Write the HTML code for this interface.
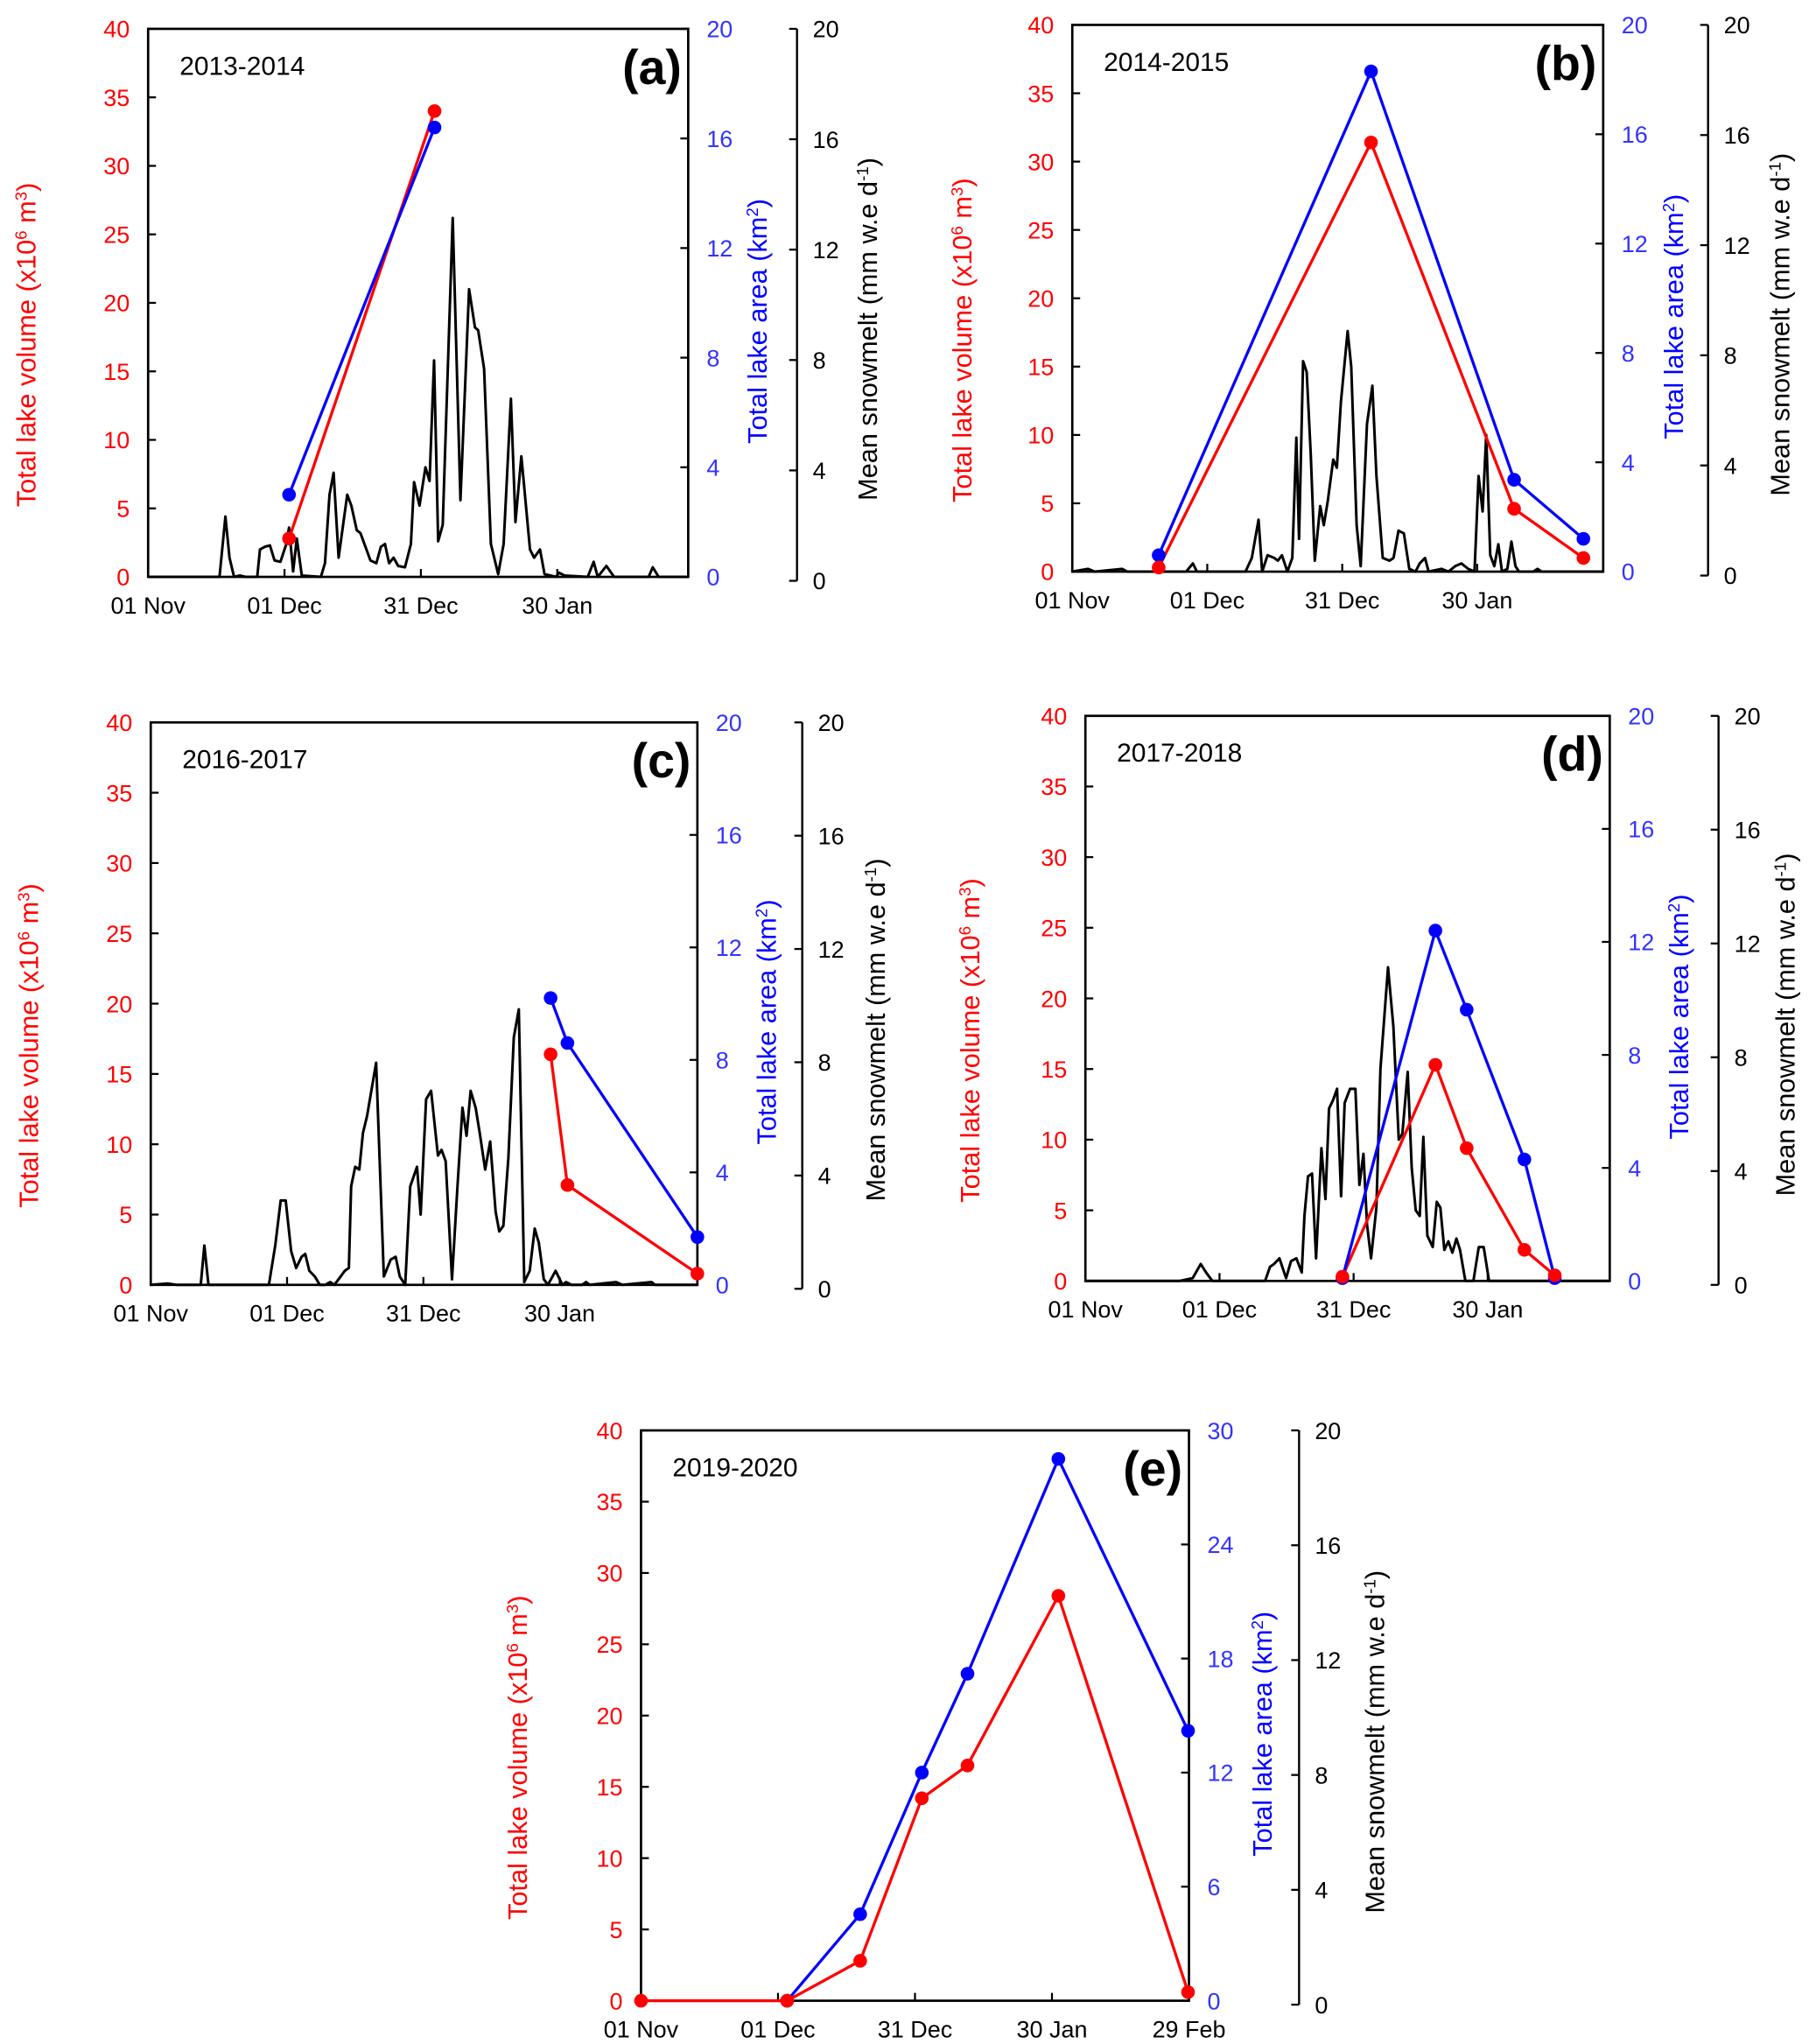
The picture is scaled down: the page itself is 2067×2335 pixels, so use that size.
<!DOCTYPE html>
<html><head><meta charset="utf-8"><style>
html,body{margin:0;padding:0;background:#fff}
svg{display:block}
text{font-family:"Liberation Sans",sans-serif}
</style></head><body>
<svg id="fig" width="2067" height="2335" viewBox="0 0 1380 1559" preserveAspectRatio="none" xmlns="http://www.w3.org/2000/svg"></svg>
<script>
// ---- data (day = days since 01 Nov) ----
const dateLabels = ["01 Nov","01 Dec","31 Dec","30 Jan"];
const dateDays = [0,30,60,90];
const dateLabelsE = ["01 Nov","01 Dec","31 Dec","30 Jan","29 Feb"];
const dateDaysE = [0,30,60,90,120];
const volTicks = [0,5,10,15,20,25,30,35,40];
const areaTicks = [0,4,8,12,16,20];
const areaTicksE = [0,6,12,18,24,30];
const meltTicks = [0,4,8,12,16,20];

const aVolDays=[31,63], aVol=[2.8,34];
const aAreaDays=[31,63], aArea=[3.0,16.4];
const aMeltDays=[0,15.7,17.0,17.9,18.9,20.2,21.4,24.0,24.6,25.7,26.8,27.8,29.1,30.4,31.0,31.9,32.7,33.8,38.0,38.9,39.9,40.8,41.9,43.8,44.7,45.9,46.7,48.9,50.2,51.2,52.1,53.0,54.0,55.0,56.5,57.8,58.5,59.7,61.0,61.9,62.9,63.8,64.8,67.0,68.7,70.6,71.9,72.6,73.9,75.4,77.0,78.2,79.8,80.8,82.1,84.0,84.9,86.2,87.2,89.7,90.4,91.6,96.7,98.0,98.9,100.8,102.5,110.1,111.0,112.3,118.8];
const aMelt=[0,0,2.2,0.7,0,0.05,0,0,1.0,1.1,1.15,0.6,0.55,1.2,1.8,0.2,1.4,0.05,0,0.5,3.0,3.8,0.7,3.0,2.6,1.7,1.6,0.6,0.5,1.1,1.2,0.5,0.7,0.4,0.35,1.2,3.46,2.6,4.0,3.5,7.9,1.3,1.9,13.1,2.8,10.5,9.1,9.0,7.6,1.2,0.1,1.2,6.5,2.0,4.4,1.0,0.7,1.0,0.1,0,0.15,0.05,0,0.55,0,0.4,0,0,0.35,0,0];

const bVolDays=[19.2,66.4,98.2,113.6], bVol=[0.3,31.4,4.6,1.0];
const bAreaDays=[19.2,66.4,98.2,113.6], bArea=[0.6,18.3,3.36,1.2];
const bMeltDays=[0,3.5,5,11.1,12.2,25.3,26.8,27.7,38.5,39.9,41.4,42.2,43.4,44.9,45.7,46.6,47.8,48.9,49.8,50.4,51.3,52.1,53.0,53.9,55.1,55.9,56.8,58.0,58.8,59.7,61.2,62.0,63.2,64.1,65.5,66.7,67.6,69.0,70.5,71.4,72.5,73.7,74.9,76.3,77.2,78.4,79.2,82.1,83.6,85.1,86.5,88.0,89.4,90.3,91.2,92.0,92.9,93.8,94.7,95.5,96.7,97.6,98.5,99.3,102.5,103.4,104.3,118];
const bMelt=[0,0.1,0,0.1,0,0,0.3,0,0,0.5,1.9,0,0.6,0.5,0.4,0.6,0,0.5,4.9,1.2,7.7,7.3,4.3,0.4,2.4,1.7,2.6,4.1,3.8,6.2,8.8,7.5,1.7,0.2,5.4,6.8,3.5,0.5,0.4,0.5,1.5,1.4,0.1,0,0.3,0.5,0,0.1,0,0.2,0.3,0.1,0,3.5,2.2,5.0,0.6,0.2,1.0,0,0.1,1.1,0.2,0,0,0.1,0,0];

const cVolDays=[88,91.7,120.3], cVol=[16.4,7.1,0.8];
const cAreaDays=[88,91.7,120.3], cArea=[10.2,8.6,1.7];
const cMeltDays=[0,3.7,5.8,11,11.8,12.7,26,27.4,28.6,29.7,30.9,32,33.2,34,34.9,36.1,37.2,38.4,39.5,40.4,41.8,42.7,43.6,44.1,45,45.9,46.7,47.6,49.6,51.3,52.8,53.9,54.8,56,57.1,58.6,59.4,60.6,61.7,63.2,64,64.9,66.3,67.5,68.6,69.5,70.4,71.5,72.4,73.6,74.7,75.9,76.7,77.6,78.7,79.9,81,82.2,83.4,84.5,85.4,86.5,87.4,89.1,90.6,91.4,92.6,94.9,95.8,96.6,102.4,103.8,110.2,111,120.3];
const cMelt=[0,0.05,0,0,1.4,0,0,1.4,3.0,3.0,1.2,0.6,1.0,1.1,0.5,0.3,0,0,0.1,0,0.3,0.5,0.6,3.5,4.2,4.1,5.4,6.0,7.9,0.3,0.9,1.0,0.3,0,3.5,4.2,2.5,6.6,6.9,4.6,4.8,4.4,0.2,3.5,6.3,5.3,6.9,6.3,5.4,4.1,5.1,2.6,1.9,2.1,4.5,8.8,9.8,0.1,0.5,2.0,1.5,0.2,0,0.5,0,0.1,0,0,0.1,0,0.1,0,0.1,0,0];

const dVolDays=[57.5,78.3,85.3,98.2,105], dVol=[0.3,15.3,9.4,2.2,0.4];
const dAreaDays=[57.5,78.3,85.3,98.2,105], dArea=[0.1,12.4,9.6,4.3,0.1];
const dMeltDays=[0,21.1,24,25.8,27,28.4,40.2,41.3,42.2,43.4,44.9,46,47.2,48.4,49,49.8,50.7,51.6,52.8,53.7,54.5,55.4,56.3,57.2,58,59.2,60.4,61.3,62.2,63,63.9,65.1,66,67.7,68.9,70.1,70.9,72.1,73,73.9,74.8,75.6,76.5,77.7,78.6,79.4,80.3,81.2,82.1,83,83.8,85,86.8,88,89.1,90.3,117.3];
const dMelt=[0,0,0.1,0.6,0.3,0,0,0.5,0.6,0.8,0.1,0.7,0.8,0.3,2.3,3.7,3.8,0.8,4.7,2.9,6.1,6.4,6.8,3.0,6.3,6.8,6.8,3.4,4.5,2.0,0.8,2.6,7.5,11.1,9.0,5.0,5.2,7.4,4.0,2.5,2.3,5.1,1.6,1.2,2.8,2.6,1.1,1.4,1.0,1.5,1.1,0,0,1.2,1.2,0,0];

const eVolDays=[0,32,48,61.5,71.5,91.4,119.8], eVol=[0,0,2.8,14.2,16.5,28.4,0.6];
const eAreaDays=[32,48,61.5,71.5,91.4,119.8], eArea=[0,4.55,12.0,17.2,28.5,14.2];
const eMeltDays=[], eMelt=[];

const panels=[
 {id:"a",year:"2013-2014",L:113,R:525,T:22,B:440,end:118.8,aMax:20,aT:areaTicks,dl:dateLabels,dd:dateDays,bx:608,rt:20,bt:578,kt:662,vd:aVolDays,v:aVol,ad:aAreaDays,ar:aArea,md:aMeltDays,m:aMelt},
 {id:"b",year:"2014-2015",L:818,R:1223,T:19,B:436,end:118,aMax:20,aT:areaTicks,dl:dateLabels,dd:dateDays,bx:1303,rt:734,bt:1277,kt:1358,vd:bVolDays,v:bVol,ad:bAreaDays,ar:bArea,md:bMeltDays,m:bMelt},
 {id:"c",year:"2016-2017",L:115,R:532,T:551,B:980,end:120.3,aMax:20,aT:areaTicks,dl:dateLabels,dd:dateDays,bx:612,rt:22,bt:585,kt:668,vd:cVolDays,v:cVol,ad:cAreaDays,ar:cArea,md:cMeltDays,m:cMelt},
 {id:"d",year:"2017-2018",L:828,R:1228,T:546,B:977,end:117.3,aMax:20,aT:areaTicks,dl:dateLabels,dd:dateDays,bx:1311,rt:740,bt:1281,kt:1362,vd:dVolDays,v:dVol,ad:dAreaDays,ar:dArea,md:dMeltDays,m:dMelt},
 {id:"e",year:"2019-2020",L:489,R:907,T:1091,B:1526,end:120,aMax:30,aT:areaTicksE,dl:dateLabelsE,dd:dateDaysE,bx:991,rt:395,bt:963,kt:1049,vd:eVolDays,v:eVol,ad:eAreaDays,ar:eArea,md:eMeltDays,m:eMelt}
];

const NS="http://www.w3.org/2000/svg";
const svg=document.getElementById('fig');
function mk(tag,attrs,parent,txt){const e=document.createElementNS(NS,tag);for(const k in attrs)e.setAttribute(k,attrs[k]);if(txt!==undefined)e.textContent=txt;parent.appendChild(e);return e;}

panels.forEach(p=>{
 const g=mk('g',{},svg);
 
 
 const x=d=>p.L+(p.R-p.L)*d/p.end;
 const yV=v=>p.B-(p.B-p.T)*v/40;
 const yA=v=>p.B-(p.B-p.T)*v/p.aMax;
 const yM=v=>p.B-(p.B-p.T)*v/20;
 if(p.md.length){
  const pl=mk('polyline',{points:p.md.map((d,i)=>x(d)+','+yM(p.m[i])).join(' '),fill:'none',stroke:'#000','stroke-width':2,'stroke-linejoin':'round'},g);
  
  
 }
 const box=mk('rect',{x:p.L,y:p.T,width:p.R-p.L,height:p.B-p.T,fill:'none',stroke:'#000','stroke-width':1.8},g);
 
 
 volTicks.forEach(t=>{
  mk('line',{x1:p.L,x2:p.L+6,y1:yV(t),y2:yV(t),stroke:'#000','stroke-width':1.5},g);
  const tx=mk('text',{x:p.L-14,y:yV(t)+6.5,'text-anchor':'end','font-size':18,fill:'#ff0000'},g,t);
  
  
 });
 p.aT.forEach(t=>{
  mk('line',{x1:p.R,x2:p.R-6,y1:yA(t),y2:yA(t),stroke:'#000','stroke-width':1.5},g);
  const tx=mk('text',{x:p.R+14,y:yA(t)+6.5,'font-size':18,fill:'#3333ff'},g,t);
  
  
 });
 const ax=mk('line',{x1:p.bx,x2:p.bx,y1:p.T,y2:p.B+3,stroke:'#000','stroke-width':1.6},g);
 
 
 meltTicks.forEach(t=>{
  const yy=p.T+(p.B+3-p.T)*(1-t/20);
  mk('line',{x1:p.bx-6,x2:p.bx,y1:yy,y2:yy,stroke:'#000','stroke-width':1.5},g);
  const tx=mk('text',{x:p.bx+12,y:yy+6.5,'font-size':18,fill:'#000'},g,t);
  
  
 });
 p.dd.forEach((d,i)=>{
  mk('line',{x1:x(d),x2:x(d),y1:p.B,y2:p.B-6,stroke:'#000','stroke-width':1.5},g);
  const tx=mk('text',{x:x(d),y:p.B+28,'text-anchor':'middle','font-size':18,fill:'#000'},g,p.dl[i]);
  
  
 });
 const rl=mk('polyline',{points:p.vd.map((d,i)=>x(d)+','+yV(p.v[i])).join(' '),fill:'none',stroke:'#ff0000','stroke-width':2.2},g);
 
 
 const bl=mk('polyline',{points:p.ad.map((d,i)=>x(d)+','+yA(p.ar[i])).join(' '),fill:'none',stroke:'#0000ff','stroke-width':2.2},g);
 
 
 p.ad.forEach((d,i)=>{
  const c=mk('circle',{cx:x(d),cy:yA(p.ar[i]),r:5.2,fill:'#0000ff'},g);
  
  
 });
 p.vd.forEach((d,i)=>{
  const c=mk('circle',{cx:x(d),cy:yV(p.v[i]),r:5.2,fill:'#ff0000'},g);
  
  
 });
 const yr=mk('text',{x:p.L+24,y:p.T+35,'font-size':20,fill:'#000'},g,p.year);
 
 
 const pl=mk('text',{x:p.R-5,y:p.T+42,'text-anchor':'end','font-size':37,'font-weight':'bold',fill:'#000'},g,'('+p.id+')');
 
 
 const cy=(p.T+p.B)/2;
 function title(xx,dy,parts,color,name){
  const t=mk('text',{x:0,y:0,transform:`translate(${xx},${cy+dy}) rotate(-90)`,'text-anchor':'middle','font-size':20.5,fill:color},g);
  
  
  parts.forEach(pt=>{
   if(pt.sup){mk('tspan',{'baseline-shift':'super','font-size':12.5},t,pt.s);}
   else mk('tspan',{},t,pt.s);
  });
 }
 title(p.rt+7,32,[{s:'Total lake volume (x10'},{s:'6',sup:1},{s:' m'},{s:'3',sup:1},{s:')'}],'#ff0000','volume-axis-title');
 title(p.bt+7,14,[{s:'Total  lake area (km'},{s:'2',sup:1},{s:')'}],'#0000ff','area-axis-title');
 title(p.kt+7,20,[{s:'Mean snowmelt (mm w.e d'},{s:'-1',sup:1},{s:')'}],'#000','snowmelt-axis-title');
});
</script>
</body></html>
